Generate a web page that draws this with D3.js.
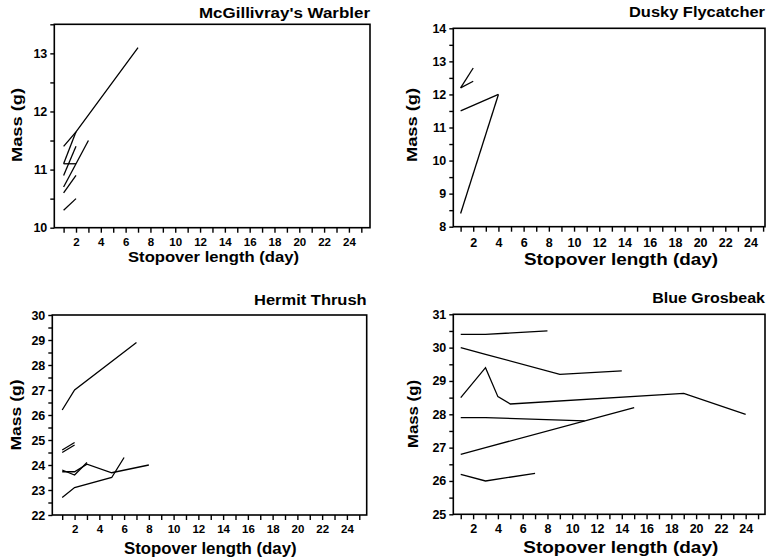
<!DOCTYPE html>
<html><head><meta charset="utf-8">
<script src="https://cdn.jsdelivr.net/npm/d3@7"></script>
<style>
body{margin:0;background:#fff}
svg{display:block}
text{font-family:"Liberation Sans",Arial,Helvetica,sans-serif;font-weight:bold;fill:#000}
</style>
</head><body>
<svg id="chart" width="769" height="559"></svg>
<script>
// ---------- DATA (day of stopover, body mass in g), one array per bird ----------
const warblerTracks = [
  [[1, 11.4], [2, 11.65], [7, 13.1]],
  [[1, 11.1], [2, 11.65]],
  [[1, 11.1], [2, 11.1]],
  [[1, 10.9], [2, 11.4]],
  [[1, 10.7], [3, 11.5]],
  [[1, 10.6], [2, 10.9]],
  [[1, 10.3], [2, 10.5]]
];
const flycatcherTracks = [
  [[1, 8.4], [4, 12.0]],
  [[1, 11.5], [4, 12.0]],
  [[1, 12.2], [2, 12.8]],
  [[1, 12.2], [2, 12.4]]
];
const thrushTracks = [
  [[1, 26.2], [2, 27.0], [7, 28.9]],
  [[1, 24.5], [2, 24.8]],
  [[1, 24.6], [2, 24.9]],
  [[1, 23.73], [2, 23.73], [3, 24.03], [5, 23.69], [8, 24.0]],
  [[1, 23.8], [2, 23.6], [3, 24.1]],
  [[1, 22.7], [2, 23.1], [5, 23.5], [6, 24.3]]
];
const grosbeakTracks = [
  [[1, 30.4], [3, 30.4], [8, 30.5]],
  [[1, 30.0], [3, 29.8], [9, 29.2], [14, 29.3]],
  [[1, 28.5], [3, 29.4], [4, 28.53], [5, 28.31], [19, 28.63], [24, 28.0]],
  [[1, 27.9], [3, 27.9], [11, 27.8]],
  [[1, 26.8], [3, 27.0], [15, 28.2]],
  [[1, 26.2], [3, 26.0], [7, 26.23]]
];
const speciesNames = ["McGillivray's Warbler", "Dusky Flycatcher", "Hermit Thrush", "Blue Grosbeak"];
const xTickDays = [1,2,3,4,5,6,7,8,9,10,11,12,13,14,15,16,17,18,19,20,21,22,23,24,25];
const xLabelDays = [2,4,6,8,10,12,14,16,18,20,22,24];
const warblerYTicks = [10, 11, 12, 13];
const flycatcherYTicks = [8, 9, 10, 11, 12, 13, 14];
const thrushYTicks = [22, 23, 24, 25, 26, 27, 28, 29, 30];
const grosbeakYTicks = [25, 26, 27, 28, 29, 30, 31];
const xAxisTitle = "Stopover length (day)";
const yAxisTitle = "Mass (g)";

// ---------- LAYOUT ----------
const panels = [
  {name: speciesNames[0], tracks: warblerTracks, yTicks: warblerYTicks, yDomain: [10, 13.5],
   L: 54.3, R: 370, T: 24.3, B: 227.7, xDomain: [0.25, 25.7],
   titleY: 18.3, titleW: 171, xLabX: 213.5, xLabY: 262, xLabW: 171, xLabFs: 15.5,
   yLabX: 21.5, yLabY: 125, yLabW: 74, xPad: 5, xFs: 11.5},
  {name: speciesNames[1], tracks: flycatcherTracks, yTicks: flycatcherYTicks, yDomain: [8, 14],
   L: 453.3, R: 765, T: 28.3, B: 226.7, xDomain: [0.42, 25.15],
   titleY: 17.3, titleW: 136, xLabX: 621, xLabY: 264.5, xLabW: 194, xLabFs: 16.5,
   yLabX: 417.3, yLabY: 125, yLabW: 74, xPad: 6, xFs: 12.5},
  {name: speciesNames[2], tracks: thrushTracks, yTicks: thrushYTicks, yDomain: [22, 30],
   L: 52.3, R: 366.7, T: 315, B: 515, xDomain: [0.2, 25.6],
   titleY: 305, titleW: 112.7, xLabX: 210.3, xLabY: 553.5, xLabW: 172.7, xLabFs: 16.5,
   yLabX: 20.7, yLabY: 415, yLabW: 71, xPad: 5, xFs: 11.5},
  {name: speciesNames[3], tracks: grosbeakTracks, yTicks: grosbeakYTicks, yDomain: [25, 31],
   L: 453.3, R: 765, T: 314.3, B: 514.3, xDomain: [0.4, 25.56],
   titleY: 303.3, titleW: 112.7, xLabX: 620.8, xLabY: 553.3, xLabW: 195, xLabFs: 16.5,
   yLabX: 418, yLabY: 414, yLabW: 68, xPad: 5, xFs: 12.5}
];

const svg = d3.select("#chart");

function drawPanel(p) {
  const g = svg.append("g");
  const x = d3.scaleLinear().domain(p.xDomain).range([p.L, p.R]);
  const y = d3.scaleLinear().domain(p.yDomain).range([p.B, p.T]);

  // y ticks: majors + half-unit minors
  const yAll = d3.range(p.yDomain[0], p.yDomain[1] + 0.001, 0.5);
  const yAxis = d3.axisLeft(y).tickValues(yAll).tickSize(4).tickPadding(3)
    .tickFormat(d => p.yTicks.includes(d) ? d : "");
  const ya = g.append("g").attr("transform", `translate(${p.L},0)`).call(yAxis);
  ya.select(".domain").remove();
  ya.selectAll(".tick line").attr("stroke", "#000").attr("stroke-width", 1.4);
  ya.selectAll(".tick text").attr("font-size", 12.5).attr("font-family", null).attr("fill", "#000");

  const xAxis = d3.axisBottom(x).tickValues(xTickDays).tickSize(5).tickPadding(p.xPad)
    .tickFormat(d => xLabelDays.includes(d) ? d : "");
  const xa = g.append("g").attr("transform", `translate(0,${p.B})`).call(xAxis);
  xa.select(".domain").remove();
  xa.selectAll(".tick line").attr("stroke", "#000").attr("stroke-width", 1.4);
  xa.selectAll(".tick text").attr("font-size", p.xFs).attr("font-family", null).attr("fill", "#000");

  // frame
  g.append("rect")
    .attr("x", p.L).attr("y", p.T)
    .attr("width", p.R - p.L).attr("height", p.B - p.T)
    .attr("fill", "none").attr("stroke", "#000").attr("stroke-width", 1.6);

  // bird tracks
  const line = d3.line().x(d => x(d[0])).y(d => y(d[1]));
  g.selectAll("path.track").data(p.tracks).join("path")
    .attr("class", "track")
    .attr("d", line)
    .attr("fill", "none").attr("stroke", "#000").attr("stroke-width", 1.3)
    .attr("stroke-linejoin", "miter");

  // titles
  g.append("text").attr("x", p.R).attr("y", p.titleY)
    .attr("text-anchor", "end").attr("font-size", 14)
    .attr("textLength", p.titleW).attr("lengthAdjust", "spacingAndGlyphs")
    .text(p.name);
  g.append("text").attr("x", p.xLabX).attr("y", p.xLabY)
    .attr("text-anchor", "middle").attr("font-size", p.xLabFs)
    .attr("textLength", p.xLabW).attr("lengthAdjust", "spacingAndGlyphs")
    .text(xAxisTitle);
  g.append("text")
    .attr("transform", `translate(${p.yLabX},${p.yLabY}) rotate(-90)`)
    .attr("text-anchor", "middle").attr("font-size", 15)
    .attr("textLength", p.yLabW).attr("lengthAdjust", "spacingAndGlyphs")
    .text(yAxisTitle);
}

panels.forEach(drawPanel);
</script>
</body></html>
